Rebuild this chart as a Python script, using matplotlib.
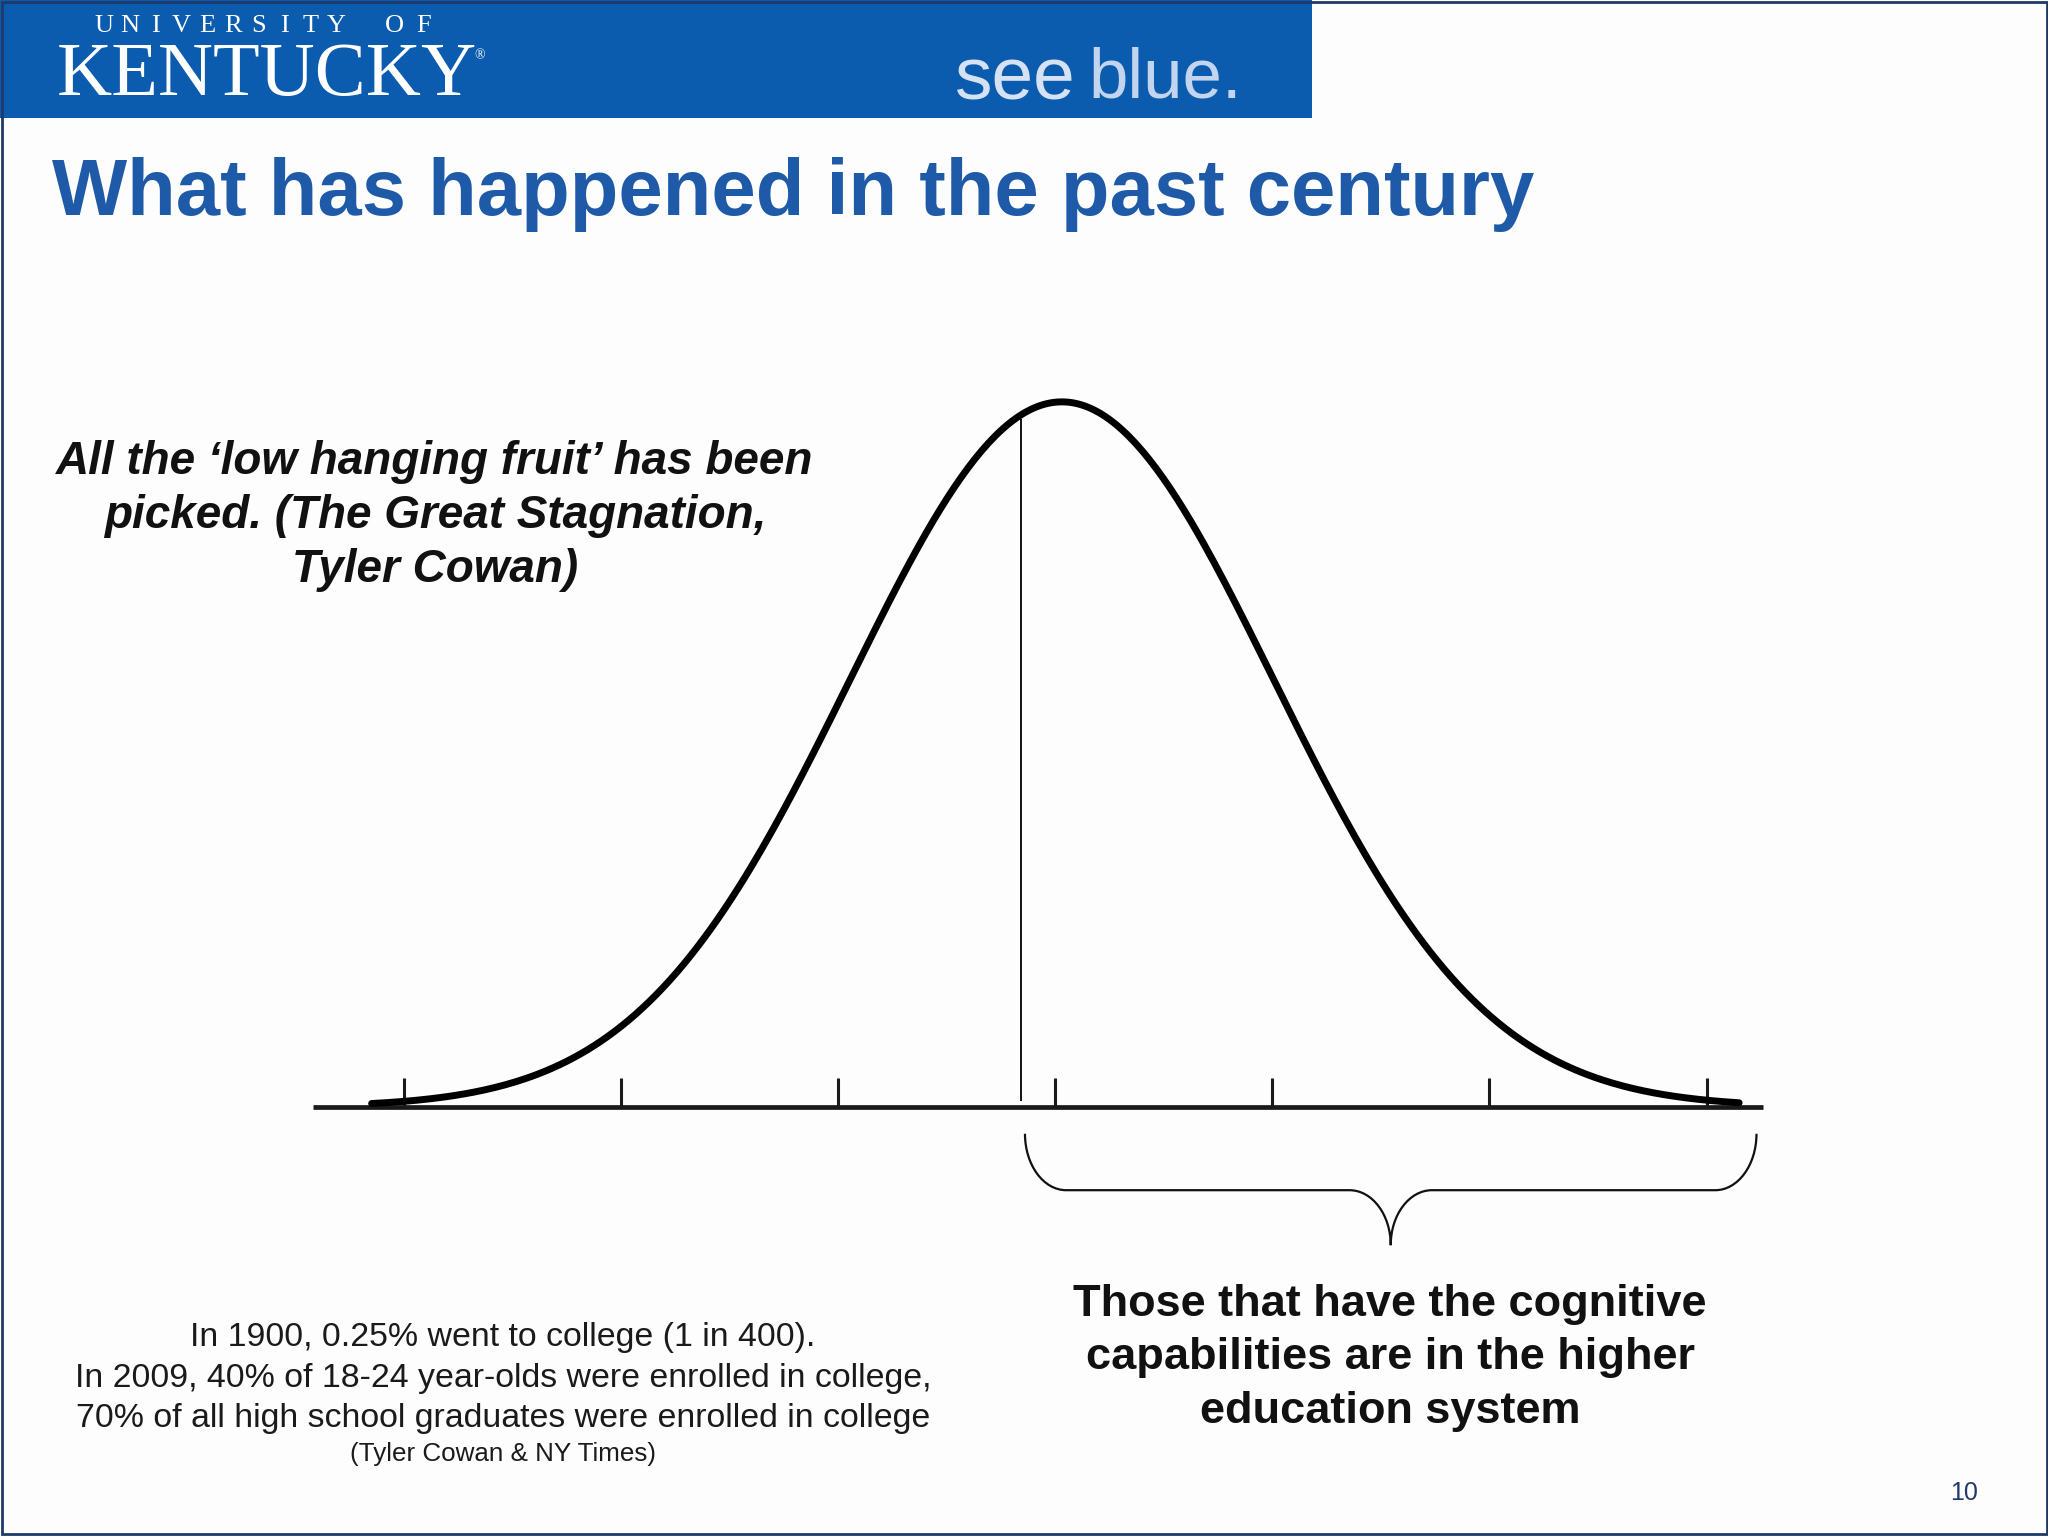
import numpy as np
import matplotlib.pyplot as plt
from matplotlib.patches import Rectangle, PathPatch
from matplotlib.path import Path

W, H = 2048, 1536

# the drawing is a plain normal distribution; axis in standard deviations
mean = 0.03                       # the drawn peak sits a hair right of the middle tick
sd = 0.975
curve_range = (-3.15, 3.15)       # where the drawn curve starts and ends, in sd
tick_sd = [-3, -2, -1, 0, 1, 2, 3]
cut_sd = -0.16                    # thin vertical line just left of the mean
brace_from, brace_to = -0.14, 3.23

title = "What has happened in the past century"
quote = "All the \u2018low hanging fruit\u2019 has been\npicked. (The Great Stagnation,\nTyler Cowan)"
right_note = "Those that have the cognitive\ncapabilities are in the higher\neducation system"
facts = ("In 1900, 0.25% went to college (1 in 400).\n"
         "In 2009, 40% of 18-24 year-olds were enrolled in college,\n"
         "70% of all high school graduates were enrolled in college")
source = "(Tyler Cowan & NY Times)"
page = "10"

UK_BLUE = "#0B5BAE"
TITLE_BLUE = "#1E5AA8"
NAVY = "#1F3A68"
SANS = "Liberation Sans"
SERIF = "Liberation Serif"


def fx(px):
    return px / W


def fy(py):
    return 1 - py / H


fig = plt.figure(figsize=(20.48, 15.36), dpi=100)
fig.patch.set_facecolor("#FDFDFD")

# header banner
fig.patches.append(Rectangle((0, fy(118)), fx(1312), 118 / H, transform=fig.transFigure,
                             facecolor=UK_BLUE, edgecolor="none", zorder=0))
fig.patches.append(Rectangle((0.0008, 0.001), 0.9985, 0.998, transform=fig.transFigure,
                             facecolor="none", edgecolor=NAVY, lw=2.0, zorder=5))

# spaced-out "UNIVERSITY OF", one letter at a time
word_x = [104 + 25.8 * i for i in range(10)] + [394, 424]
for ch, x in zip("UNIVERSITYOF", word_x):
    fig.text(fx(x), fy(26), ch, color="white", fontsize=19, family=SERIF,
             va="center", ha="center")
fig.text(fx(57), fy(77), "KENTUCKY", color="white", fontsize=55, family=SERIF,
         va="center", ha="left")
fig.text(fx(474), fy(56), "\u00ae", color="white", fontsize=10, family=SERIF,
         va="center", ha="left")
fig.text(fx(955), fy(80), "see", color="#D5E2F4", fontsize=54, family=SANS,
         va="center", ha="left")
fig.text(fx(1088), fy(80), "blue.", color="#C2D4EE", fontsize=51, family=SANS,
         va="center", ha="left")

fig.text(fx(52), fy(194), title, color=TITLE_BLUE, fontsize=57.3, fontweight="bold",
         family=SANS, va="center", ha="left")

# chart area: x in sd, y relative to the peak height
ax = fig.add_axes([fx(313), fy(1260), fx(1450), 880 / H])
ax.set_xlim(-3.42, 3.26)
ax.set_ylim(-0.217, 1.031)
ax.axis("off")

x = np.linspace(curve_range[0], curve_range[1], 400)
y = np.exp(-0.5 * ((x - mean) / sd) ** 2)

ax.plot([-3.42, 3.26], [0, 0], color="#1A1A1A", lw=3.4, solid_capstyle="butt", clip_on=False)
ax.vlines(tick_sd, 0, 0.041, color="#1A1A1A", lw=2.2)
ax.plot(x, y, color="black", lw=5.0, solid_capstyle="round", clip_on=False)
ax.vlines([cut_sd], 0.008, 0.975, color="black", lw=1.3)

# curly brace under the right half
y_top, y_flat, y_tip = -0.038, -0.118, -0.196
r = 0.19
k = 0.552
L, R = brace_from, brace_to
T = (brace_from + brace_to) / 2
verts = [
    (L, y_top),
    (L, y_top + k * (y_flat - y_top)), (L + r - k * r, y_flat), (L + r, y_flat),
    (T - r, y_flat),
    (T - r + k * r, y_flat), (T, y_tip + k * (y_flat - y_tip)), (T, y_tip),
    (T, y_tip + k * (y_flat - y_tip)), (T + r - k * r, y_flat), (T + r, y_flat),
    (R - r, y_flat),
    (R - r + k * r, y_flat), (R, y_top + k * (y_flat - y_top)), (R, y_top),
]
codes = ([Path.MOVETO] + [Path.CURVE4] * 3 + [Path.LINETO] + [Path.CURVE4] * 6
         + [Path.LINETO] + [Path.CURVE4] * 3)
ax.add_patch(PathPatch(Path(verts, codes), facecolor="none", edgecolor="#111111", lw=1.6,
                       clip_on=False))

fig.text(fx(435), fy(516), quote, fontsize=33, fontweight="bold", style="italic",
         family=SANS, ha="center", va="center", linespacing=1.3, color="#111111")
fig.text(fx(1390), fy(1358), right_note, fontsize=32.5, fontweight="bold",
         family=SANS, ha="center", va="center", linespacing=1.4, color="#111111")
fig.text(fx(503), fy(1378), facts, fontsize=24.4, family=SANS, ha="center", va="center",
         linespacing=1.41, color="#1A1A1A")
fig.text(fx(503), fy(1454), source, fontsize=18.7, family=SANS, ha="center", va="center",
         color="#1A1A1A")
fig.text(fx(1964), fy(1493), page, fontsize=18, family=SANS, ha="center", va="center",
         color=NAVY)

fig.savefig("out.png", dpi=100, facecolor=fig.get_facecolor())
